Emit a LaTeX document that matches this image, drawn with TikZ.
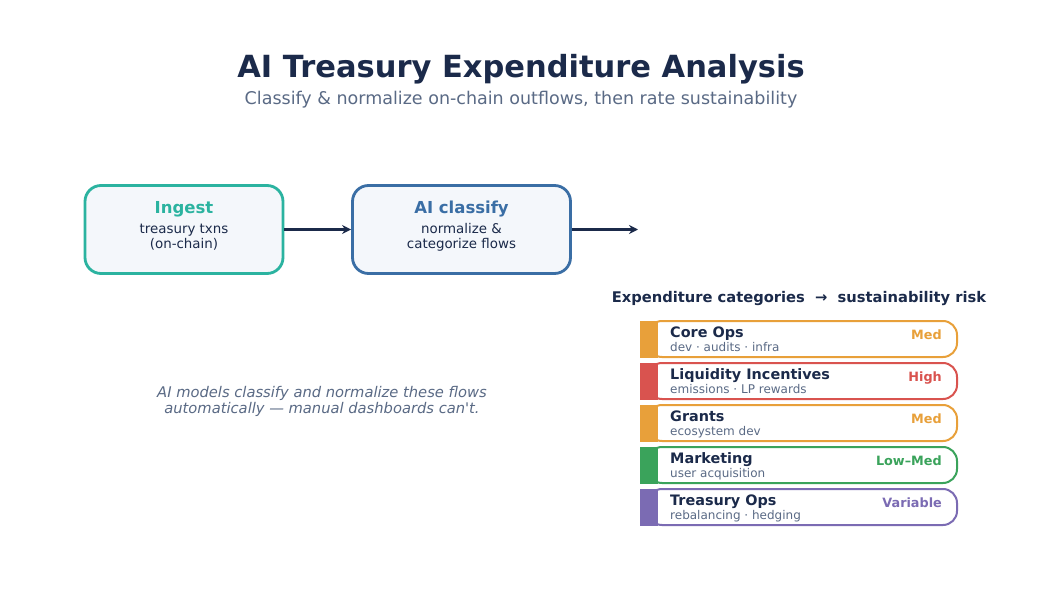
\documentclass[tikz,border=0pt]{standalone}
\usepackage{fontspec}
\setmainfont{DejaVu Sans}
\usetikzlibrary{arrows.meta}
\definecolor{navy}{HTML}{1B2A4A}
\definecolor{slate}{HTML}{5A6A85}
\definecolor{teal1}{HTML}{2BB3A0}
\definecolor{blue1}{HTML}{3A6EA5}
\definecolor{boxfill}{HTML}{F4F7FB}
\definecolor{corange}{HTML}{E8A03A}
\definecolor{cred}{HTML}{D9534F}
\definecolor{cgreen}{HTML}{3AA35B}
\definecolor{cpurple}{HTML}{7B6BB3}
\newcommand{\fs}[1]{\fontsize{#1}{\fpeval{#1*1.12}}\selectfont}
\tikzset{
  stagebox/.style={draw=#1, line width=2.8pt, fill=boxfill, rounded corners=16pt, minimum height=88pt, inner sep=0pt},
  flowarrow/.style={navy, line width=2.6pt, -{Stealth[length=9pt,width=9pt]}},
  rowbox/.style={draw=#1, line width=2pt, fill=white, rounded corners=14pt, minimum width=309pt, minimum height=36pt, inner sep=0pt},
  rowstrip/.style={fill=#1, draw=none, minimum width=18pt, minimum height=37pt, inner sep=0pt},
  rowtitle/.style={anchor=base west, text=navy, font=\fs{14.4}\bfseries, inner sep=0pt},
  rowsub/.style={anchor=base west, text=slate, font=\fs{12}, inner sep=0pt},
  risk/.style={anchor=base east, text=#1, font=\fs{12.8}\bfseries, inner sep=0pt},
}
\begin{document}
\begin{tikzpicture}[x=1pt,y=-1pt]
\useasboundingbox (0,0) rectangle (1042,604);
\fill[white] (0,0) rectangle (1042,604);

\node[text=navy, font=\fs{30.5}\bfseries] (title) at (521,69.5) {AI Treasury Expenditure Analysis};
\node[text=slate, font=\fs{17.5}] (subtitle) at (521,99.5) {Classify \& normalize on-chain outflows, then rate sustainability};

\node[stagebox=teal1, minimum width=198pt] (ingest) at (184,229.5) {};
\node[text=teal1, font=\fs{16.5}\bfseries] (ingestT) at (184,209) {Ingest};
\node[text=navy, font=\fs{13.4}, align=center] (ingestB) at (184,237) {treasury txns\\(on-chain)};

\node[stagebox=blue1, minimum width=218pt] (classify) at (461.5,229.5) {};
\node[text=blue1, font=\fs{16.5}\bfseries] (classifyT) at (461.5,209) {AI classify};
\node[text=navy, font=\fs{13.4}, align=center] (classifyB) at (461.5,237) {normalize \&\\categorize flows};

\coordinate (out) at (638,229.5);
\draw[flowarrow] (ingest.east) -- (classify.west);
\draw[flowarrow] (classify.east) -- (out);

\node[text=slate, font=\fs{14.7}\itshape, align=center] (note) at (322,401.5) {AI models classify and normalize these flows\\automatically — manual dashboards can\textquotesingle t.};

\node[text=navy, font=\fs{14.7}\bfseries] (heading) at (799,298.5) {Expenditure categories \ →\ \ sustainability risk};

% rows
\foreach \y/\c/\t/\s/\r [count=\i] in {339/corange/Core Ops/dev · audits · infra/Med,
  381/cred/Liquidity Incentives/emissions · LP rewards/High,
  423/corange/Grants/ecosystem dev/Med,
  465/cgreen/Marketing/user acquisition/Low–Med,
  507/cpurple/Treasury Ops/rebalancing · hedging/Variable}{
  \node[rowbox=\c] (row\i) at (802.5,\y) {};
  \node[rowstrip=\c] (strip\i) at (649,\y) {};
  \node[rowtitle] (rt\i) at (670,\y-2) {\t};
  \node[rowsub] (rs\i) at (670,\y+12) {\s};
  \node[risk=\c] (rk\i) at (942,\y+0.5) {\r};
}
\end{tikzpicture}
\end{document}
